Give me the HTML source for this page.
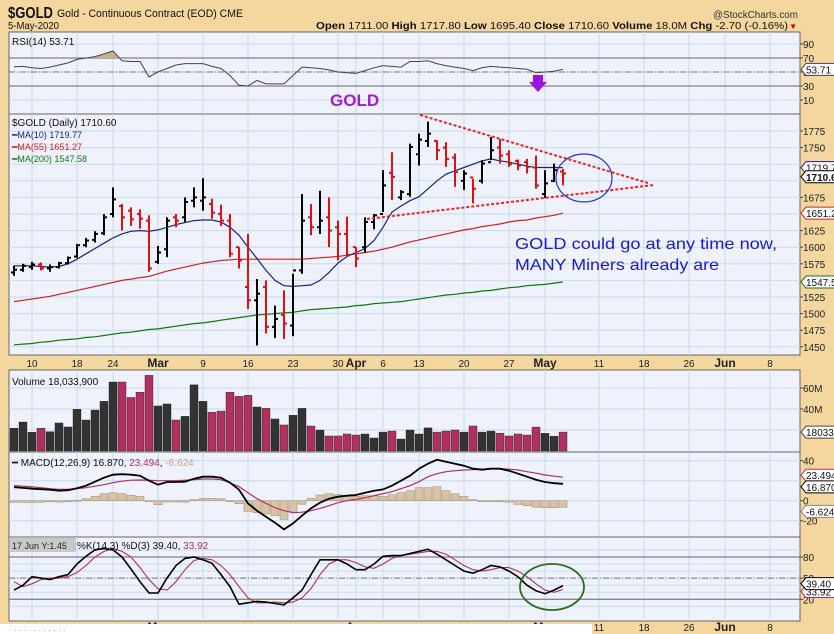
<!DOCTYPE html>
<html><head><meta charset="utf-8">
<style>
html,body{margin:0;padding:0;background:#f4d79f;}
svg{display:block;font-family:"Liberation Sans",sans-serif;}
</style></head>
<body>
<svg id="chart" width="834" height="634" viewBox="0 0 834 634" xmlns="http://www.w3.org/2000/svg">
<defs><clipPath id="rsiTop"><rect x="9" y="32" width="791" height="26"/></clipPath></defs>
<rect x="0" y="0" width="834" height="634" fill="#f4d79f"/>
<text x="8" y="18" font-size="16" font-weight="bold" fill="#111" textLength="45" lengthAdjust="spacingAndGlyphs">$GOLD</text>
<text x="57" y="17" font-size="11" fill="#111" textLength="186" lengthAdjust="spacingAndGlyphs">Gold - Continuous Contract (EOD) CME</text>
<text x="8" y="29" font-size="10" fill="#111" textLength="51" lengthAdjust="spacingAndGlyphs">5-May-2020</text>
<text x="798" y="18" font-size="10" fill="#333" text-anchor="end" textLength="85" lengthAdjust="spacingAndGlyphs">@StockCharts.com</text>
<text x="316" y="29" font-size="10" fill="#111" textLength="472" lengthAdjust="spacingAndGlyphs"><tspan font-weight="bold">Open</tspan> 1711.00 <tspan font-weight="bold">High</tspan> 1717.80 <tspan font-weight="bold">Low</tspan> 1695.40 <tspan font-weight="bold">Close</tspan> 1710.60 <tspan font-weight="bold">Volume</tspan> 18.0M <tspan font-weight="bold">Chg</tspan> -2.70 (-0.16%)</text>
<text x="797" y="29" font-size="8" fill="#c00" text-anchor="end">▼</text>
<g id="layer"></g>
</svg>
<script>
// ---- data ----
const dateTickIdx = [2,7,11,16,21,26,31,36,38,41,45,50,55,59,65,70,75,79,84];
const dateTickLbl = ['10','18','24','Mar','9','16','23','30','Apr','6','13','20','27','May','11','18','26','Jun','8'];
const priceTicks = [1450,1475,1500,1525,1550,1575,1600,1625,1650,1675,1700,1725,1750,1775];
const openP = [1562,1566,1570,1574,1568,1570,1576,1586,1603,1611,1621,1650,1662,1655,1650,1640,1578,1597,1645,1645,1670,1670,1665,1650,1640,1600,1540,1520,1540,1480,1498,1482,1565,1645,1630,1645,1630,1620,1600,1600,1638,1650,1712,1675,1680,1740,1760,1760,1750,1735,1700,1705,1700,1728,1750,1740,1730,1728,1720,1680,1700,1714];
const highP = [1572,1575,1578,1577,1574,1578,1586,1605,1614,1624,1650,1690,1665,1660,1657,1648,1602,1645,1650,1675,1690,1704,1673,1664,1650,1600,1620,1552,1550,1512,1535,1560,1680,1665,1685,1675,1640,1646,1600,1645,1650,1716,1743,1686,1756,1771,1789,1761,1758,1741,1716,1703,1731,1766,1763,1746,1732,1733,1738,1716,1726,1718];
const lowP = [1557,1563,1566,1565,1563,1568,1574,1584,1600,1607,1618,1645,1625,1632,1628,1563,1575,1585,1630,1638,1660,1655,1643,1632,1585,1568,1507,1452,1470,1463,1462,1466,1560,1618,1620,1600,1580,1586,1570,1592,1627,1653,1671,1671,1676,1723,1751,1731,1721,1691,1686,1666,1696,1731,1726,1721,1716,1711,1688,1674,1698,1693];
const closeP = [1566,1572,1574,1568,1570,1576,1584,1603,1610,1620,1645,1672,1645,1642,1643,1568,1592,1640,1640,1668,1675,1675,1652,1640,1590,1580,1520,1530,1480,1492,1485,1565,1640,1630,1640,1625,1620,1588,1583,1638,1648,1693,1706,1683,1751,1762,1771,1746,1733,1713,1711,1688,1726,1746,1738,1725,1723,1721,1693,1696,1716,1711];
const ma10 = [1572,1572,1572,1571,1570,1571,1575,1582,1590,1598,1606,1614,1620,1624,1625,1624,1626,1630,1634,1637,1640,1641,1641,1638,1630,1618,1600,1583,1565,1550,1542,1541,1542,1543,1550,1562,1576,1586,1592,1598,1610,1630,1653,1662,1670,1676,1688,1700,1710,1715,1720,1725,1730,1733,1730,1728,1725,1722,1720,1720,1720,1719.77];
const ma55 = [1518,1520,1522,1524,1526,1529,1532,1535,1538,1541,1544,1547,1550,1552,1554,1556,1560,1564,1567,1570,1573,1576,1578,1580,1581,1582,1582,1582,1582,1582,1582,1582,1582,1583,1584,1585,1586,1588,1590,1592,1594,1597,1600,1604,1608,1611,1614,1617,1620,1623,1626,1628,1631,1633,1635,1638,1640,1641,1644,1646,1648,1651.27];
const ma200 = [1453,1454,1455,1457,1458,1460,1461,1462,1464,1465,1467,1469,1471,1472,1474,1476,1477,1479,1481,1483,1485,1486,1488,1490,1492,1494,1496,1498,1499,1500,1501,1502,1504,1506,1507,1508,1509,1510,1512,1513,1515,1516,1517,1518,1520,1522,1524,1526,1528,1529,1531,1532,1534,1535,1537,1539,1540,1542,1543,1544,1546,1547.58];
const rsiVals = [57.6,58,56,55,57,60,63,68,70,72,76,80,66,65,65,43,50,55,60,62,62,62,58,55,45,31,30,38,33,33,33,45,57,56,55,53,50,49,48,52,56,59,58,57,65,65,66,62,59,57,55,52,56,58,57,56,55,54,49,50,51,53.71];
const volVals = [21.7,27.6,17.8,21.7,18.4,26.7,22.9,39.7,29.5,39,47.3,65.7,65.7,51,56,72,42.9,44.8,29.5,33,63,47.3,37,38,56,52,53,41.9,40.6,30.5,24.8,34,40.6,23.8,20,14.3,14.3,16.2,15.2,16.2,12.4,18,19,11.4,20,16.2,22,18,19,20,18,23.8,18,19,17,14.3,16.2,15.2,22.8,16.8,14,18.03];
const macdVals = [13.5,12.8,12,11.5,11,10,10.5,12.5,15,19,23,26,26.5,26,25,20,16,18.7,18.7,19,22,24,24,23,18,11,-2.7,-10,-16,-22,-28.7,-22.7,-15,-7.7,-2,2,4,5,5.7,8,10,11.3,15,20,25,32,37,41,39,37,35,32,31,32,32,30,27,24,21,18.7,17.5,16.87];
const signalVals = [15,14.5,13.8,13,12,11.4,11.5,12,13,14.5,16,18,19.5,20.5,20.7,20.5,20,20,20,20.5,21,21.7,21.7,21,18,14,8,2,-2.7,-7,-10,-12,-11.5,-10,-7.7,-5,-2,0,1.3,3,5,7,9,12,15,19,24,27,29,30,30.7,31,31.5,32,32,31.5,30.7,29,27.5,25.7,24.5,23.494];
const stochK = [33,40,52,50,48,52,55,70,81,90,92,90,80,63,45,29,29,50,68,78,80,76,71,55,38,13,15,17,16,14,12,22,33,55,76,76,76,70,62,62,70,81,82,82,85,88,91,84,76,68,60,57,62,68,66,60,52,40,32,28,33,39.40];
const stochD = [45,38,42,48,50,50,52,58,68,80,88,92,88,80,65,48,35,33,45,62,75,78,76,68,55,38,22,15,15,16,15,16,22,35,55,70,76,76,72,66,64,70,78,82,84,86,88,88,84,76,68,62,60,62,65,65,60,52,42,33,30,33.92];

// ---- geometry ----
const NS='http://www.w3.org/2000/svg';
const L=9, R=800;
const layer=document.getElementById('layer');
function mk(tag,attrs,parent){const e=document.createElementNS(NS,tag);for(const k in attrs)e.setAttribute(k,attrs[k]);(parent||layer).appendChild(e);return e;}
function xi(i){return 14+9*i;}
const P={rsi:[32,114],price:[114,355],vol:[370,452],macd:[452,537],stoch:[537,621]};
function yRsi(v){return 100-(v-10)*0.7;}
function yPrice(v){return 131+(1775-v)*0.664;}
function yVol(v){return 451-v*1.05;}
function yMacd(v){return 500.7-v*1.0;}
function yStoch(v){return 599.3-(v-20)*0.705;}

function panel(name,top,bot){
  const r=mk('rect',{x:L,y:top,width:R-L,height:bot-top,fill:'#eff1fb',stroke:'#666','stroke-width':1});
  
  
  dateTickIdx.forEach(i=>{const g=mk('line',{x1:xi(i),x2:xi(i),y1:top,y2:bot,stroke:'#c6dbef','stroke-width':1});
    
    });
}
function hgrid(name,y){const g=mk('line',{x1:L,x2:R,y1:y,y2:y,stroke:'#c6dbef','stroke-width':1});
  
  }
function rlabel(name,y,t){const e=mk('text',{x:803,y:y+4,'font-size':10,fill:'#222'});e.textContent=t;
  
  
  const tk=mk('line',{x1:R,x2:803,y1:y,y2:y,stroke:'#444'});
  
  }
function pathD(arr,yf){let d='';arr.forEach((v,i)=>{d+=(i?'L':'M')+xi(i)+','+yf(v).toFixed(1);});return d;}
function poly(name,arr,yf,color,w,dash){
  const p=mk('path',{d:pathD(arr,yf),fill:'none',stroke:color,'stroke-width':w||1});if(dash)p.setAttribute('stroke-dasharray',dash);
  
  return p;}
function tag(name,y,t,color,bold){
  const g=mk('g',{});
  
  
  mk('path',{d:`M801,${y} l5,-6 h30 v12 h-30 z`,fill:'#fff',stroke:color,'stroke-width':1},g);
  const e=mk('text',{x:806,y:y+4,'font-size':10,fill:'#111','font-weight':bold?'bold':'normal'},g);e.textContent=t;}
function label(name,x,y,t,size,color,extra){const e=mk('text',Object.assign({x:x,y:y,'font-size':size,fill:color},extra||{}));e.textContent=t;
  
  return e;}

// RSI panel
panel('rsi',P.rsi[0],P.rsi[1]);
[10,30,50,70,90].forEach(v=>{hgrid('rsi',yRsi(v));rlabel('rsi',yRsi(v),v);});
[30,70].forEach(v=>{const l=mk('line',{x1:L,x2:R,y1:yRsi(v),y2:yRsi(v),stroke:'#666'});
  
  });
{const l=mk('line',{x1:L,x2:R,y1:yRsi(50),y2:yRsi(50),stroke:'#777','stroke-dasharray':'6,2,1,2'});
  
  }
{const f=mk('path',{d:pathD(rsiVals,yRsi)+`L${xi(rsiVals.length-1)},${yRsi(70)}L${xi(0)},${yRsi(70)}Z`,fill:'#c8b08a',stroke:'none','clip-path':'url(#rsiTop)'});
  
  }
poly('rsi-line',rsiVals,yRsi,'#444',1);
label('rsi-title',12,45,'RSI(14) 53.71',10,'#111');
tag('rsi-value-tag',yRsi(53.71),'53.71','#444');
label('gold-annotation',330,106,'GOLD',17,'#a020d0',{'font-weight':'bold'});
{const a=mk('path',{d:'M533,82 h10 v-7 h-10 z M529,82 L538,92 L547,82 z',fill:'#a010e0'});
  
  }

// price panel
panel('price',P.price[0],P.price[1]);
priceTicks.forEach(v=>{hgrid('price',yPrice(v));if(v!==1700&&v!==1725&&v!==1650&&v!==1550)rlabel('price',yPrice(v),v);});
poly('ma200-line',ma200,yPrice,'#117711',1.2);
poly('ma55-line',ma55,yPrice,'#cc2222',1.2);
poly('ma10-line',ma10,yPrice,'#1a237e',1.2);
closeP.forEach((c,i)=>{
  const col=c<openP[i]?'#dd1111':'#000';
  const g=mk('g',{stroke:col,'stroke-width':2});
  
  
  const x=xi(i);
  mk('line',{x1:x,x2:x,y1:yPrice(highP[i]),y2:yPrice(lowP[i])},g);
  mk('line',{x1:x-3,x2:x,y1:yPrice(openP[i]),y2:yPrice(openP[i])},g);
  mk('line',{x1:x,x2:x+3,y1:yPrice(c),y2:yPrice(c)},g);
});
{const t1=mk('line',{x1:420,y1:115,x2:648,y2:183,stroke:'#ee2222','stroke-width':2,'stroke-dasharray':'3,2'});
  
  
  const t2=mk('line',{x1:367,y1:219,x2:654,y2:185,stroke:'#ee2222','stroke-width':2,'stroke-dasharray':'3,2'});
  
  
  const c=mk('ellipse',{cx:584,cy:178,rx:28,ry:24,fill:'none',stroke:'#2233cc','stroke-width':1.2});
  
  }
label('price-title',12,126,'$GOLD (Daily) 1710.60',10,'#111');
label('ma10-legend',12,138,'━MA(10) 1719.77',9,'#1a237e');
label('ma55-legend',12,150,'━MA(55) 1651.27',9,'#cc2222');
label('ma200-legend',12,162,'━MA(200) 1547.58',9,'#117711');
label('annotation-line-1',515,249,'GOLD could go at any time now,',16,'#1a1ad0',{textLength:262,lengthAdjust:'spacingAndGlyphs'});
label('annotation-line-2',515,270,'MANY Miners already are',16,'#1a1ad0',{textLength:204,lengthAdjust:'spacingAndGlyphs'});
tag('ma10-tag',yPrice(1719.77),'1719.7','#1a237e');
tag('close-tag',yPrice(1710.6)+3,'1710.6','#000',true);
tag('ma55-tag',yPrice(1651.27),'1651.2','#cc2222');
tag('ma200-tag',yPrice(1547.58),'1547.5','#117711');

// date axis labels
function dateLabels(y){dateTickIdx.forEach((i,k)=>{const t=dateTickLbl[k];const bold=isNaN(+t);
  label('date-label',xi(i),y,t,bold?12:10,'#222',{'text-anchor':'middle','font-weight':bold?'bold':'normal'});});}
dateLabels(367);

// volume
panel('volume',P.vol[0],P.vol[1]);
[20,40,60].forEach(v=>{hgrid('volume',yVol(v));if(v>20)rlabel('volume',yVol(v),v+'M');});
volVals.forEach((v,i)=>{const col=closeP[i]<openP[i]?'#b03060':'#333';
  const r=mk('rect',{x:xi(i)-4,y:yVol(v),width:8,height:451-yVol(v),fill:col,stroke:'#222','stroke-width':0.4});
  
  });
label('volume-title',12,385,'Volume 18,033,900',10,'#111');
tag('volume-tag',yVol(18.03),'180339','#444');

// MACD
panel('macd',P.macd[0],P.macd[1]);
[-20,0,20,40].forEach(v=>{hgrid('macd',yMacd(v));if(v!==20)rlabel('macd',yMacd(v),v);});
macdVals.forEach((m,i)=>{const h=m-signalVals[i];const y0=yMacd(0),y1=yMacd(h);
  const r=mk('rect',{x:xi(i)-4,y:Math.min(y0,y1),width:8,height:Math.max(1,Math.abs(y1-y0)),fill:'#d8c4a4',stroke:'#9a8a70','stroke-width':0.5});
  
  });
poly('macd-signal-line',signalVals,yMacd,'#b03060',1.2);
poly('macd-line',macdVals,yMacd,'#000',1.8);
label('macd-title',12,466,'',10,'#111').innerHTML='━ MACD(12,26,9) 16.870, <tspan fill="#b03060">23.494</tspan>, <tspan fill="#c8a880">-6.624</tspan>';
tag('macd-signal-tag',yMacd(23.494)-2,'23.494','#b03060');
tag('macd-tag',yMacd(16.87)+3,'16.870','#000');
tag('macd-hist-tag',yMacd(-6.624)+4,'-6.624','#888');

// Stochastic
panel('stoch',P.stoch[0],P.stoch[1]);
[10,20,30,40,50,60,70,80,90].forEach(v=>hgrid('stoch',yStoch(v)));
[20,80].forEach(v=>{rlabel('stoch',yStoch(v),v);const l=mk('line',{x1:L,x2:R,y1:yStoch(v),y2:yStoch(v),stroke:'#666'});
  
  });
rlabel('stoch',yStoch(50),50);
{const l=mk('line',{x1:L,x2:R,y1:yStoch(50),y2:yStoch(50),stroke:'#777','stroke-dasharray':'6,2,1,2'});
  
  }
poly('stoch-d-line',stochD,yStoch,'#b03060',1.1);
poly('stoch-k-line',stochK,yStoch,'#000',1.6);
{const b=mk('rect',{x:10,y:538,width:66,height:14,fill:'#c8c8c8'});
  
  }
label('crosshair-text',12,549,'17 Jun Y:1.45',9,'#222');
label('stoch-title',77,549,'',10,'#111').innerHTML='%K(14,3) %D(3) 39.40, <tspan fill="#b03060">33.92</tspan>';
{const c=mk('ellipse',{cx:552,cy:587,rx:32,ry:23,fill:'none',stroke:'#2e6b1e','stroke-width':1.8});
  
  }
tag('stoch-d-tag',yStoch(33.92)+2,'33.92','#b03060');
tag('stoch-k-tag',yStoch(39.4)-2,'39.40','#000');

dateLabels(631);
{const w=mk('rect',{x:0,y:624,width:592,height:10,fill:'#fff'});
  
  }
label('bottom-caption',14,633,'· · ·   · · ·   · · ·  · ·',8,'#999');
</script>
</body></html>
